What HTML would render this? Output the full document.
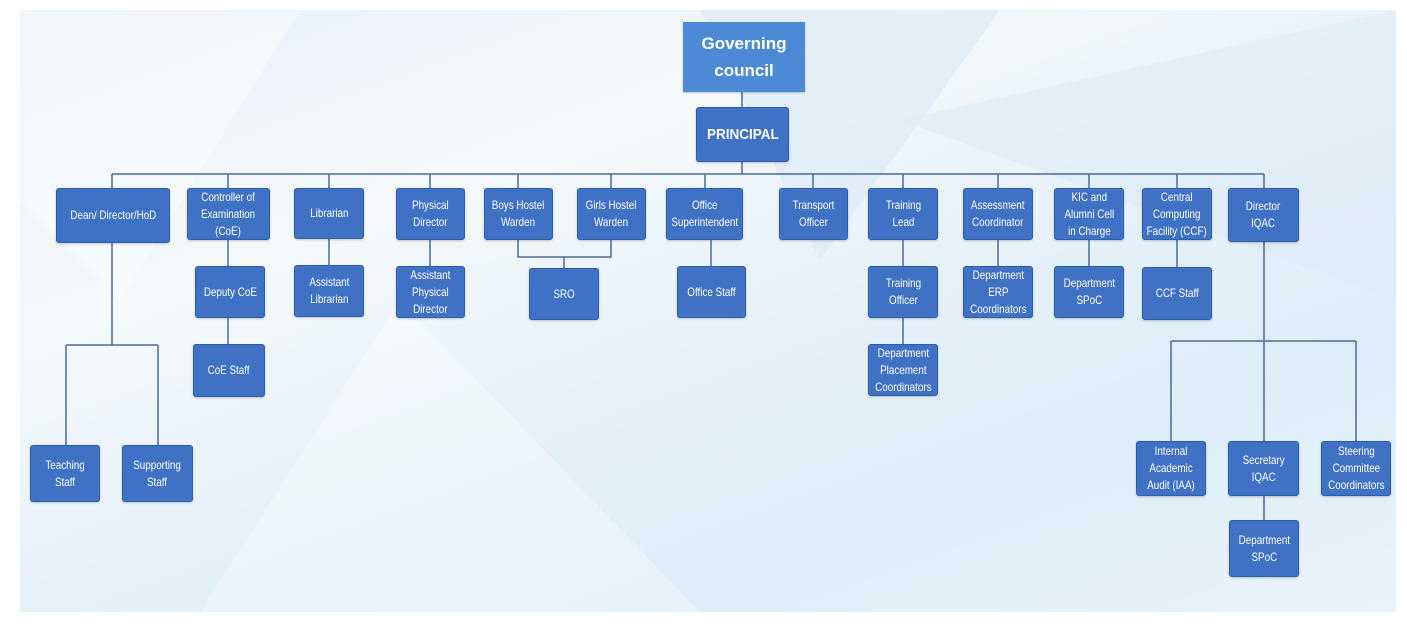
<!DOCTYPE html>
<html><head><style>
body{margin:0;width:1407px;height:629px;background:#fff;position:relative;overflow:hidden;font-family:"Liberation Sans",sans-serif}
#bg{position:absolute;left:20px;top:10px;width:1376px;height:602px;background:linear-gradient(160deg,#e9f1f8 0%,#f4f8fb 30%,#e6f1f8 55%,#dcedf8 75%,#eaf3f9 100%)}
.b{position:absolute;background:#3f72c4;border:1px solid #2f5ea8;border-radius:3px;color:#fff;font-size:12px;line-height:17px;display:flex;align-items:center;justify-content:center;text-align:center;box-sizing:border-box;box-shadow:0 1px 2px rgba(0,0,0,.2)}
.b span{display:inline-block;white-space:nowrap;transform:scaleX(.82);flex:none}
svg{position:absolute;left:0;top:0}
</style></head><body>
<div id="bg"></div>
<svg width="1407" height="629">
<polygon points="20,10 300,10 120,300 20,200" fill="#ffffff" opacity=".35"/>
<polygon points="700,10 1000,10 820,260" fill="#d6e6f3" opacity=".5"/>
<polygon points="900,120 1396,10 1396,300" fill="#dbe9f5" opacity=".5"/>
<polygon points="400,300 700,612 200,612" fill="#ffffff" opacity=".3"/>
<g stroke="#4a6a98" stroke-width="1.5" fill="none">
<path d="M742 92V107M742 161V174M112 174H1264"/>
<path d="M112 174V188M228 174V188M329 174V188M430 174V188M518 174V188M611 174V188M705 174V188M813 174V188M903 174V188M998 174V188M1089 174V188M1177 174V188M1264 174V188"/>
<path d="M112 242V345M66 345H158M66 345V445M158 345V445"/>
<path d="M228 240V266M228 318V344M329 239V265M430 240V266"/>
<path d="M518 240V257H611V240M564 257V268M711 240V266"/>
<path d="M903 240V266M903 318V344M998 240V266M1089 240V266M1177 240V267"/>
<path d="M1264 242V441M1171 341H1356M1171 341V441M1356 341V441M1264 496V520"/>
</g>
</svg>
<div class="b" style="left:683px;top:22px;width:122px;height:70px;background:#4d8ad6;border:none;border-radius:0;font-weight:bold;font-size:17px;line-height:27px">Governing<br>council</div>
<div class="b" style="left:696px;top:107px;width:93px;height:55px;font-weight:bold;font-size:15px"><span style="transform:scaleX(.9)">PRINCIPAL</span></div>
<div class="b" style="left:56px;top:188px;width:114px;height:55px"><span>Dean/ Director/HoD</span></div>
<div class="b" style="left:187px;top:188px;width:83px;height:52px"><span>Controller of<br>Examination<br>(CoE)</span></div>
<div class="b" style="left:294px;top:188px;width:70px;height:51px"><span>Librarian</span></div>
<div class="b" style="left:396px;top:188px;width:69px;height:52px"><span>Physical<br>Director</span></div>
<div class="b" style="left:484px;top:188px;width:69px;height:52px"><span>Boys Hostel<br>Warden</span></div>
<div class="b" style="left:577px;top:188px;width:69px;height:52px"><span>Girls Hostel<br>Warden</span></div>
<div class="b" style="left:666px;top:188px;width:77px;height:52px"><span>Office<br>Superintendent</span></div>
<div class="b" style="left:779px;top:188px;width:69px;height:52px"><span>Transport<br>Officer</span></div>
<div class="b" style="left:868px;top:188px;width:70px;height:52px"><span>Training<br>Lead</span></div>
<div class="b" style="left:963px;top:188px;width:70px;height:52px"><span>Assessment<br>Coordinator</span></div>
<div class="b" style="left:1054px;top:188px;width:70px;height:52px"><span>KIC and<br>Alumni Cell<br>in Charge</span></div>
<div class="b" style="left:1142px;top:188px;width:70px;height:52px"><span>Central<br>Computing<br>Facility (CCF)</span></div>
<div class="b" style="left:1228px;top:188px;width:71px;height:54px"><span>Director<br>IQAC</span></div>
<div class="b" style="left:195px;top:266px;width:70px;height:52px"><span>Deputy CoE</span></div>
<div class="b" style="left:294px;top:265px;width:70px;height:52px"><span>Assistant<br>Librarian</span></div>
<div class="b" style="left:396px;top:266px;width:69px;height:52px"><span>Assistant<br>Physical<br>Director</span></div>
<div class="b" style="left:529px;top:268px;width:70px;height:52px"><span>SRO</span></div>
<div class="b" style="left:677px;top:266px;width:69px;height:52px"><span>Office Staff</span></div>
<div class="b" style="left:868px;top:266px;width:70px;height:52px"><span>Training<br>Officer</span></div>
<div class="b" style="left:963px;top:266px;width:70px;height:52px"><span>Department<br>ERP<br>Coordinators</span></div>
<div class="b" style="left:1054px;top:266px;width:70px;height:52px"><span>Department<br>SPoC</span></div>
<div class="b" style="left:1142px;top:267px;width:70px;height:53px"><span>CCF Staff</span></div>
<div class="b" style="left:193px;top:344px;width:72px;height:53px"><span>CoE Staff</span></div>
<div class="b" style="left:868px;top:344px;width:70px;height:52px"><span>Department<br>Placement<br>Coordinators</span></div>
<div class="b" style="left:30px;top:445px;width:70px;height:57px"><span>Teaching<br>Staff</span></div>
<div class="b" style="left:122px;top:445px;width:71px;height:57px"><span>Supporting<br>Staff</span></div>
<div class="b" style="left:1136px;top:441px;width:70px;height:55px"><span>Internal<br>Academic<br>Audit (IAA)</span></div>
<div class="b" style="left:1228px;top:441px;width:71px;height:55px"><span>Secretary<br>IQAC</span></div>
<div class="b" style="left:1321px;top:441px;width:70px;height:55px"><span>Steering<br>Committee<br>Coordinators</span></div>
<div class="b" style="left:1229px;top:520px;width:70px;height:57px"><span>Department<br>SPoC</span></div>
</body></html>
